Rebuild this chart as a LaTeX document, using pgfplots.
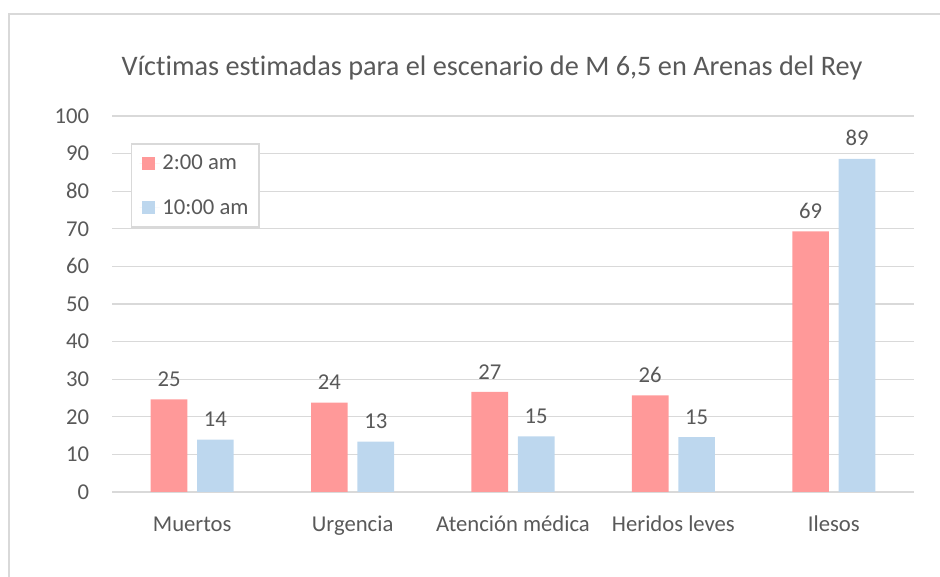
\documentclass[border=0pt]{standalone}
\usepackage{fontspec}
\setmainfont{Carlito}[Ligatures=NoCommon]
\usepackage{pgfplots}
\pgfplotsset{compat=1.18}

\definecolor{rosa}{HTML}{FF9999}
\definecolor{celeste}{HTML}{BDD7EE}
\definecolor{texto}{HTML}{595959}
\definecolor{rejilla}{HTML}{D9D9D9}

\begin{document}
\begin{tikzpicture}[x=0.75pt,y=0.75pt]
% marco del grafico (1px = 0.75pt)
\path[use as bounding box] (0,0) rectangle (940,577);
\draw[rejilla, line width=1.1pt] (9,0) -- (9,563) -- (940,563);
\node[texto, font=\fontsize{21.2}{25}\selectfont] at (492,509)
  {Víctimas estimadas para el escenario de M 6,5 en Arenas del Rey};

\begin{axis}[
  at={(84pt,63.75pt)}, anchor=south west,
  scale only axis,
  width=601.5pt, height=282pt,
  ybar,
  bar width=27.5pt,
  xmin=-0.5, xmax=4.5,
  ymin=0, ymax=100,
  ytick={0,10,...,100},
  xtick={0,1,2,3,4},
  xticklabels={Muertos,Urgencia,Atención médica,Heridos leves,Ilesos},
  axis line style={draw=none},
  tick style={draw=none},
  major tick length=0pt,
  ymajorgrids=true,
  grid style={rejilla, line width=1pt},
  /pgf/number format/assume math mode=true,
  yticklabel style={font=\fontsize{17}{20}\selectfont, text=texto,
    anchor=east, inner sep=0pt, xshift=-17pt},
  xticklabel style={font=\fontsize{17}{20}\selectfont, text=texto,
    anchor=base, inner sep=0pt, yshift=-30pt},
  nodes near coords,
  every node near coord/.append style={font=\fontsize{17}{20}\selectfont,
    text=texto, anchor=south, inner sep=0pt, yshift=9.4pt,
    /pgf/number format/fixed, /pgf/number format/precision=0},
  legend style={at={(0.0237,0.927)}, anchor=north west,
    draw=rejilla, line width=1pt, text=texto,
    font=\fontsize{17}{20}\selectfont,
    row sep=17pt, inner xsep=6pt, inner ysep=6pt},
  legend cell align=left,
  legend image code/.code={
    \fill[#1] (2pt,-4.9pt) rectangle (11.75pt,4.9pt);
    \path (0pt,0pt) -- (15pt,0pt);},
]
\addplot[fill=rosa, draw=none, bar shift=-17.4pt] coordinates {
  (0,24.6) (1,23.8) (2,26.6) (3,25.7) (4,69.3)
};
\addplot[fill=celeste, draw=none, bar shift=17.4pt] coordinates {
  (0,13.9) (1,13.4) (2,14.8) (3,14.6) (4,88.6)
};
\legend{2:00 am,10:00 am}
\end{axis}
\end{tikzpicture}
\end{document}
